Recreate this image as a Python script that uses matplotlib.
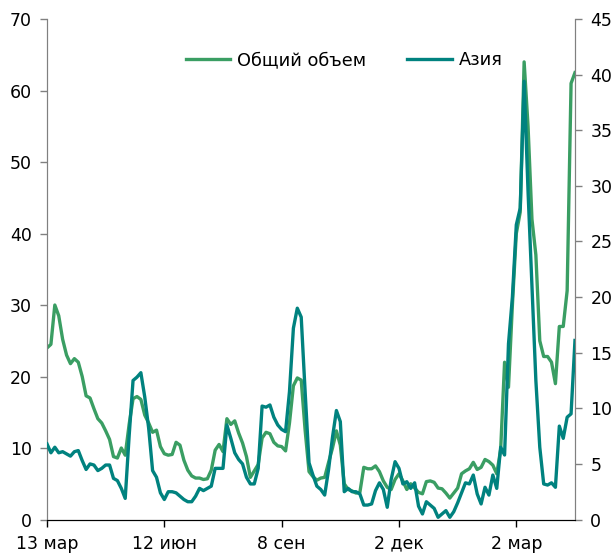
import matplotlib
matplotlib.use("Agg")
import matplotlib.pyplot as plt

# Data (index = trading-day step; ticks every 30 steps)
tick_labels = ["13 мар", "12 июн", "8 сен", "2 дек", "2 мар"]
tick_pos = [0, 30, 60, 90, 120]

total_volume = [
    24, 24.5, 30, 28.5, 25.2, 23, 21.8, 22.5, 22, 20,
    17.3, 17, 15.5, 14.1, 13.5, 12.4, 11.2, 8.8, 8.6, 10,
    9, 13.3, 16.9, 17.2, 16.8, 14.6, 13.5, 12.2, 12.5, 10.2,
    9.2, 9.0, 9.1, 10.8, 10.4, 8.3, 6.9, 6.1, 5.8, 5.8,
    5.6, 5.7, 6.9, 9.7, 10.5, 9.5, 14.1, 13.3, 13.8, 12.1,
    10.7, 8.8, 5.9, 6.8, 7.7, 11.4, 12.2, 12.0, 10.8, 10.3,
    10.2, 9.6, 13.5, 18.7, 19.8, 19.5, 12.5, 6.7, 6.0, 5.5,
    5.8, 5.9, 8.0, 10.0, 12.4, 10.4, 5.0, 4.2, 4.0, 3.7,
    3.8, 7.3, 7.1, 7.1, 7.5, 6.7, 5.4, 4.5, 4.2, 5.6,
    6.4, 5.4, 4.2, 5.0, 4.4, 3.8, 3.6, 5.3, 5.4, 5.2,
    4.4, 4.3, 3.7, 3.0, 3.7, 4.4, 6.4, 6.8, 7.1, 8.0,
    7.0, 7.3, 8.4, 8.1, 7.6, 6.4, 9.8, 22, 18.5, 30,
    40, 43, 64, 55, 42, 37, 25, 22.8, 22.8, 22,
    19, 27, 27, 32, 61, 62.5,
]

asia = [
    6.8, 6.0, 6.5, 6.0, 6.1, 5.9, 5.7, 6.1, 6.2, 5.3,
    4.5, 5.0, 4.9, 4.4, 4.6, 4.9, 4.9, 3.7, 3.5, 2.8,
    1.9, 7.5, 12.5, 12.8, 13.2, 11.0, 8.2, 4.4, 3.8, 2.4,
    1.8, 2.5, 2.5, 2.4, 2.1, 1.8, 1.6, 1.6, 2.1, 2.8,
    2.6, 2.8, 3.0, 4.6, 4.6, 4.6, 8.5, 7.3, 6.0, 5.4,
    5.0, 3.8, 3.2, 3.2, 4.6, 10.2, 10.1, 10.3, 9.2, 8.5,
    8.1, 7.9, 11.5, 17.2, 19.0, 18.2, 11.5, 5.1, 4.0, 3.0,
    2.7, 2.2, 4.5, 7.4, 9.8, 8.8, 2.5, 2.8, 2.5, 2.5,
    2.3, 1.3, 1.3, 1.4, 2.6, 3.3, 2.7, 1.1, 3.6, 5.2,
    4.6, 3.2, 3.4, 2.8, 3.3, 1.2, 0.5, 1.6, 1.3, 1.0,
    0.2, 0.5, 0.8, 0.2, 0.7, 1.5, 2.4, 3.3, 3.2, 4.0,
    2.3, 1.4, 2.9, 2.2, 4.0, 2.8, 6.5, 5.8, 15.8, 20,
    26.5, 28, 39.4, 29.5, 21, 12.5, 6.5, 3.2, 3.1, 3.3,
    2.9, 8.4, 7.3, 9.2, 9.5, 16.1,
]

series_names = ["Общий объем", "Азия"]
green = "#3a9e63"
teal = "#00827f"

plt.rcParams["font.family"] = ["DejaVu Sans"]
plt.rcParams["font.size"] = 12

fig = plt.figure(figsize=(6.12, 5.56), dpi=100)
ax = fig.add_axes([0.0768, 0.0656, 0.8627, 0.9002])
ax2 = ax.twinx()

x = list(range(len(total_volume)))
l1, = ax.plot(x, total_volume, color=green, lw=2.4, label=series_names[0], zorder=3)
l2, = ax2.plot(x, asia, color=teal, lw=2.4, label=series_names[1], zorder=3)

ax.set_xlim(0, len(total_volume) - 1)
ax.set_ylim(0, 70)
ax2.set_ylim(0, 45)
ax.set_yticks(range(0, 71, 10))
ax2.set_yticks(range(0, 46, 5))
ax.set_xticks(tick_pos)
ax.set_xticklabels(tick_labels)

for a in (ax, ax2):
    a.spines["top"].set_visible(False)
    a.spines["left"].set_color("#808080")
    a.spines["right"].set_color("#808080")
    a.spines["bottom"].set_color("#000000")
    a.tick_params(colors="#808080", labelcolor="#000000", length=5, width=1)

ax.tick_params(axis="x", colors="#000000", pad=6, labelsize=12.5)
ax.tick_params(axis="y", labelsize=12.5, pad=6)
ax2.tick_params(axis="y", labelsize=12.5, pad=6)

ax.legend([l1, l2], series_names, loc="center", bbox_to_anchor=(0.563, 0.918),
          ncol=2, frameon=False, handlelength=2.5, columnspacing=2.3,
          handletextpad=0.4, fontsize=12.8)

fig.savefig("out.png", dpi=100)
